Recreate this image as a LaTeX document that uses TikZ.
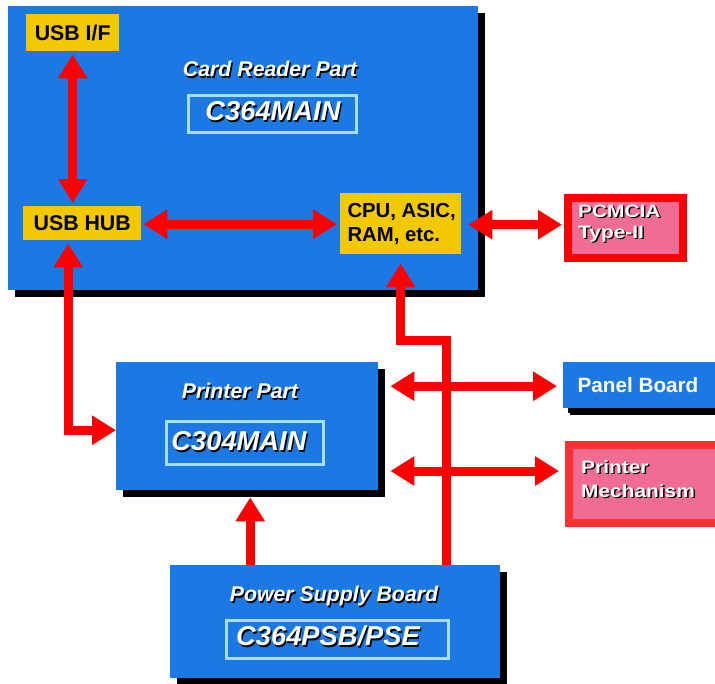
\documentclass[tikz,border=0pt]{standalone}
\usepackage{fontspec}
\setmainfont{Liberation Sans}
\newfontfamily\extfont[FakeStretch=1.16]{Liberation Sans}
\usetikzlibrary{arrows.meta,shadows}

\definecolor{boardblue}{HTML}{1C78E2}
\definecolor{chipyellow}{HTML}{F2C800}
\definecolor{extpink}{HTML}{F06C92}
\definecolor{framecyan}{HTML}{A6E0F6}
\definecolor{busred}{HTML}{FF0000}
\definecolor{mechred}{HTML}{FF3030}

% white lettering with a hard black drop shadow
\newcommand\shd[1]{\rlap{\kern1.4pt\raisebox{-1.4pt}{\color{black}#1}}#1}

\tikzset{
  board/.style={fill=boardblue, draw=none, anchor=north west,
    drop shadow={shadow xshift=7pt, shadow yshift=-7pt, opacity=1, fill=black}},
  chip/.style={fill=chipyellow, draw=none, anchor=north west},
  extbox/.style={fill=extpink, draw=#1, line width=8pt, anchor=north west},
  codeframe/.style={draw=framecyan, line width=2.5pt, fill=none, anchor=north west},
  title/.style={text=white, font=\bfseries\itshape\fontsize{21.3}{24}\selectfont},
  code/.style={text=white, font=\bfseries\itshape\fontsize{27.3}{30}\selectfont},
  chiptext/.style={text=black, font=\bfseries\fontsize{21.3}{24}\selectfont},
  exttext/.style={text=white, font=\extfont\bfseries\fontsize{18}{21}\selectfont,
    anchor=base west, inner sep=0pt},
  bus/.style={draw=busred, line width=9pt, >={Triangle[width=28pt,length=24pt]}},
}

\begin{document}
\begin{tikzpicture}[x=1pt,y=-1pt]
\useasboundingbox (0,0) rectangle (715,683);
\clip (0,0) rectangle (715,683);

% ---------- Card reader board ----------
\node[board, minimum width=470pt, minimum height=284pt] (cr) at (8,6) {};
\node[title] (crtitle) at (270,70) {\shd{Card Reader Part}};
\node[codeframe, minimum width=168pt, minimum height=37pt] (crframe) at (187,94) {};
\node[code] (crcode) at (273,112) {\shd{C364MAIN}};

\node[chip, minimum width=93pt, minimum height=37pt] (usbif) at (26,14) {};
\node[chiptext] at (usbif.center) {USB I/F};
\node[chip, minimum width=118pt, minimum height=34pt] (usbhub) at (23,206) {};
\node[chiptext] at (usbhub.center) {USB HUB};
\node[chip, minimum width=121pt, minimum height=61pt] (cpu) at (340,193) {};
\node[chiptext, align=left, anchor=west, font=\bfseries\fontsize{20.3}{24}\selectfont]
  (cputext) at (344,224) {CPU, ASIC,\\RAM, etc.};

% ---------- Printer board ----------
\node[board, minimum width=262pt, minimum height=128pt] (printer) at (116,362) {};
\node[title] (prtitle) at (240,392) {\shd{Printer Part}};
\node[codeframe, minimum width=157pt, minimum height=43pt] (prframe) at (165,420) {};
\node[code] (prcode) at (239,442) {\shd{C304MAIN}};

% ---------- Power supply board ----------
\node[board, minimum width=330pt, minimum height=113pt] (psb) at (170,565) {};
\node[title] (pstitle) at (334,597) {\shd{Power Supply Board}};
\node[codeframe, minimum width=222pt, minimum height=38pt] (psframe) at (225,619) {};
\node[code] (pscode) at (328,637) {\shd{C364PSB/PSE}};

% ---------- External units ----------
\node[board, minimum width=160pt, minimum height=46pt,
  drop shadow={shadow xshift=5pt, shadow yshift=-5pt, opacity=1, fill=black}] (panel) at (563,362) {};
\node[text=white, font=\bfseries\fontsize{20.7}{22}\selectfont] (paneltext) at (638,385) {Panel Board};

\node[extbox=busred, minimum width=115pt, minimum height=60pt] (pcmcia) at (564,194) {};
\node[exttext] (pctext1) at (578,217) {\shd{PCMCIA}};
\node[exttext] (pctext2) at (578,238) {\shd{Type-II}};

\node[extbox=mechred, minimum width=150pt, minimum height=78pt] (mech) at (565,441) {};
\node[exttext] (mechtext1) at (581,473) {\shd{Printer}};
\node[exttext] (mechtext2) at (581,497) {\shd{Mechanism}};

% ---------- Buses ----------
\draw[bus,<->] ([yshift=-3pt]usbif.south) -- ([yshift=3pt]usbif.south |- usbhub.north);
\draw[bus,<->] ([xshift=2pt,yshift=-1pt]usbhub.east) -- ([xshift=-3pt,yshift=-1pt]usbhub.east -| cpu.west);
\draw[bus,<->] ([xshift=7pt,yshift=-1pt]cpu.east) -- ([xshift=-2pt,yshift=-1pt]cpu.east -| pcmcia.west);
\draw[bus,<->] ([xshift=-14pt,yshift=-3pt]usbhub.south) |- ([yshift=-4pt]printer.west);
\draw[bus,<->] ([xshift=12pt,yshift=-1pt]printer.east |- panel.west) -- ([xshift=-6pt,yshift=-1pt]panel.west);
\draw[bus,<->] ([xshift=12pt,yshift=13pt]printer.east |- mech.west) -- ([xshift=-6pt,yshift=13pt]mech.west);
\draw[bus,->] ([xshift=3pt]psb.north -| printer.south) -- ([xshift=3pt,yshift=-7pt]printer.south);
\coordinate (bend) at (446,340);
\draw[bus,->] (bend |- psb.north) -- (bend) -| ([yshift=-9pt]cpu.south);
\end{tikzpicture}
\end{document}
